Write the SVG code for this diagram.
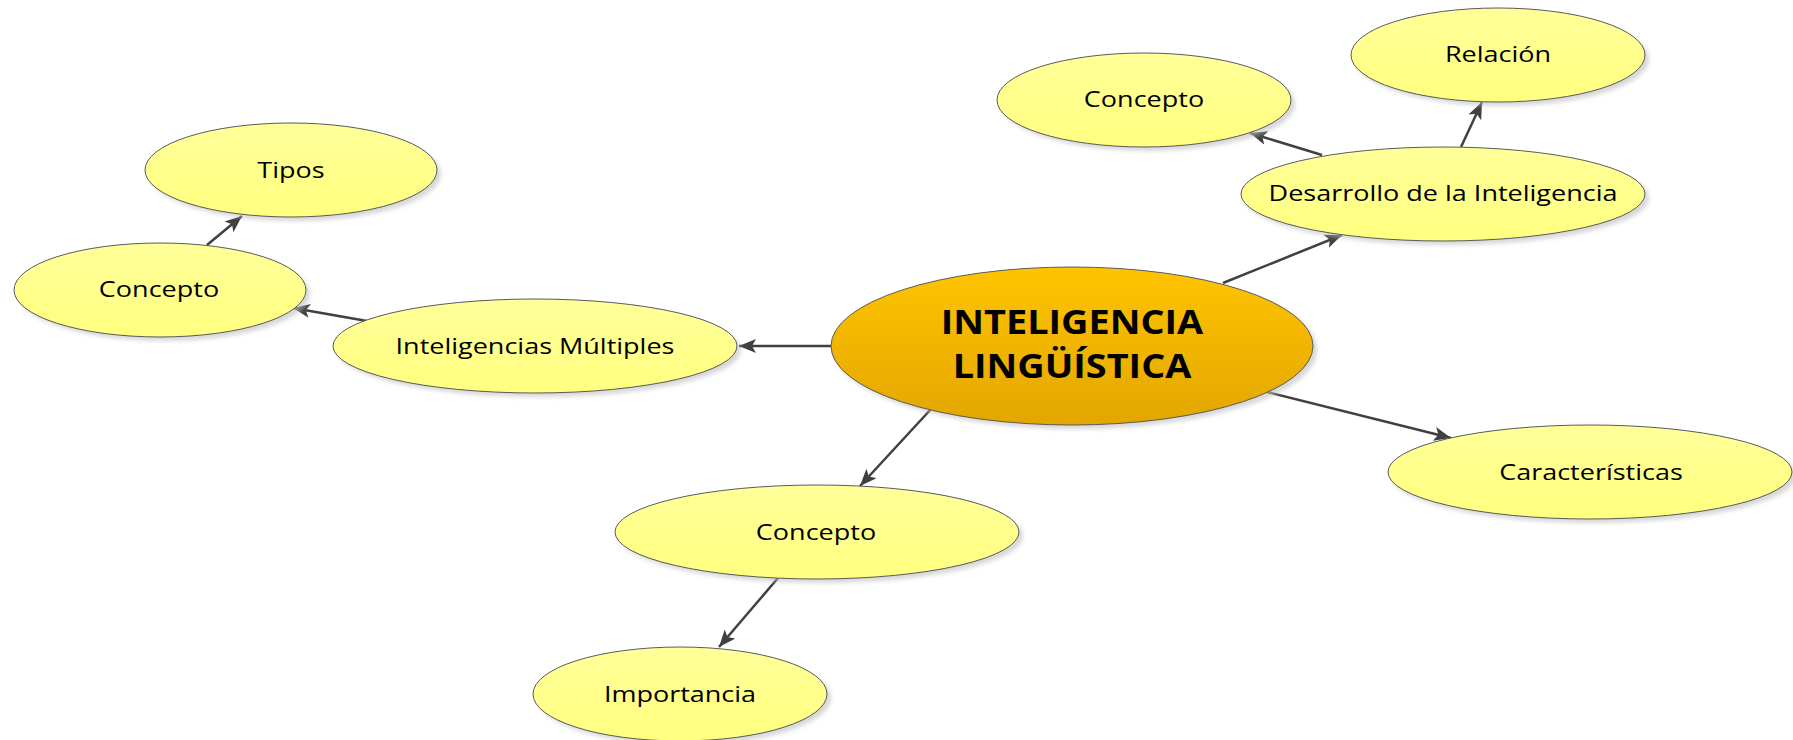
<svg xmlns="http://www.w3.org/2000/svg" width="1793" height="740" viewBox="0 0 1793 740">
<defs>
<linearGradient id="gy" x1="0" y1="0" x2="0" y2="1">
<stop offset="0" stop-color="#FFFF99"/>
<stop offset="1" stop-color="#FFFF80"/>
</linearGradient>
<linearGradient id="go" x1="0" y1="0" x2="0" y2="1">
<stop offset="0" stop-color="#FFC400"/>
<stop offset="1" stop-color="#E3A600"/>
</linearGradient>
<filter id="sh" x="-10%" y="-10%" width="130%" height="140%">
<feGaussianBlur stdDeviation="2"/>
</filter>
<marker id="ah" markerUnits="userSpaceOnUse" markerWidth="20" markerHeight="16" refX="17" refY="7" orient="auto">
<path d="M0,0 L17,7 L0,14 L4,7 Z" fill="#404040"/>
</marker>
</defs>
<style>
.n{fill:url(#gy);stroke:#5a5a5a;stroke-width:1}
.c{fill:url(#go);stroke:#5a5a5a;stroke-width:1}
.s{fill:#bdbdbd;opacity:0.6;filter:url(#sh)}
.t{font-family:"Open Sans","Liberation Sans",sans-serif;font-size:22.5px;fill:#000;text-anchor:middle}
.tb{font-family:"Open Sans","Liberation Sans",sans-serif;font-size:33.5px;font-weight:bold;fill:#000;text-anchor:middle}
.e{stroke:#404040;stroke-width:2.5;fill:none;marker-end:url(#ah)}
</style>
<rect width="1793" height="740" fill="#fff"/>
<g id="connectors">
<line class="e" x1="831" y1="346" x2="739" y2="346"/>
<line class="e" x1="367" y1="321" x2="293" y2="308"/>
<line class="e" x1="207" y1="245" x2="242" y2="216"/>
<line class="e" x1="1223" y1="283" x2="1342" y2="235"/>
<line class="e" x1="1322" y1="155" x2="1250" y2="133"/>
<line class="e" x1="1461" y1="147" x2="1482" y2="102"/>
<line class="e" x1="1267" y1="392" x2="1451" y2="438"/>
<line class="e" x1="932" y1="408" x2="860" y2="486"/>
<line class="e" x1="778" y1="578" x2="719" y2="647"/>
</g>
<g id="central">
<ellipse class="s" cx="1076" cy="350" rx="241" ry="79"/>
<ellipse class="c" cx="1072" cy="346" rx="241" ry="79"/>
<text class="tb" transform="translate(1072,334) scale(1.13,1)">INTELIGENCIA</text>
<text class="tb" transform="translate(1072,378) scale(1.13,1)">LINGÜÍSTICA</text>
</g>
<g id="tipos">
<ellipse class="s" cx="295" cy="174" rx="146" ry="47"/>
<ellipse class="n" cx="291" cy="170" rx="146" ry="47"/>
<text class="t" transform="translate(291,178) scale(1.2,1)">Tipos</text>
</g>
<g id="concepto-izq">
<ellipse class="s" cx="164" cy="294" rx="146" ry="47"/>
<ellipse class="n" cx="160" cy="290" rx="146" ry="47"/>
<text class="t" transform="translate(159,297) scale(1.2,1)">Concepto</text>
</g>
<g id="inteligencias-multiples">
<ellipse class="s" cx="539" cy="350" rx="202" ry="47"/>
<ellipse class="n" cx="535" cy="346" rx="202" ry="47"/>
<text class="t" transform="translate(535,354) scale(1.2,1)">Inteligencias Múltiples</text>
</g>
<g id="concepto-sup">
<ellipse class="s" cx="1148" cy="104" rx="147" ry="47"/>
<ellipse class="n" cx="1144" cy="100" rx="147" ry="47"/>
<text class="t" transform="translate(1144,107) scale(1.2,1)">Concepto</text>
</g>
<g id="relacion">
<ellipse class="s" cx="1502" cy="59" rx="147" ry="47"/>
<ellipse class="n" cx="1498" cy="55" rx="147" ry="47"/>
<text class="t" transform="translate(1498,62) scale(1.2,1)">Relación</text>
</g>
<g id="desarrollo">
<ellipse class="s" cx="1447" cy="198" rx="202" ry="47"/>
<ellipse class="n" cx="1443" cy="194" rx="202" ry="47"/>
<text class="t" transform="translate(1443,201) scale(1.2,1)">Desarrollo de la Inteligencia</text>
</g>
<g id="caracteristicas">
<ellipse class="s" cx="1594" cy="476" rx="202" ry="47"/>
<ellipse class="n" cx="1590" cy="472" rx="202" ry="47"/>
<text class="t" transform="translate(1591,480) scale(1.2,1)">Características</text>
</g>
<g id="concepto-inf">
<ellipse class="s" cx="821" cy="536" rx="202" ry="47"/>
<ellipse class="n" cx="817" cy="532" rx="202" ry="47"/>
<text class="t" transform="translate(816,540) scale(1.2,1)">Concepto</text>
</g>
<g id="importancia">
<ellipse class="s" cx="684" cy="698" rx="147" ry="47"/>
<ellipse class="n" cx="680" cy="694" rx="147" ry="47"/>
<text class="t" transform="translate(680,702) scale(1.2,1)">Importancia</text>
</g>
</svg>
